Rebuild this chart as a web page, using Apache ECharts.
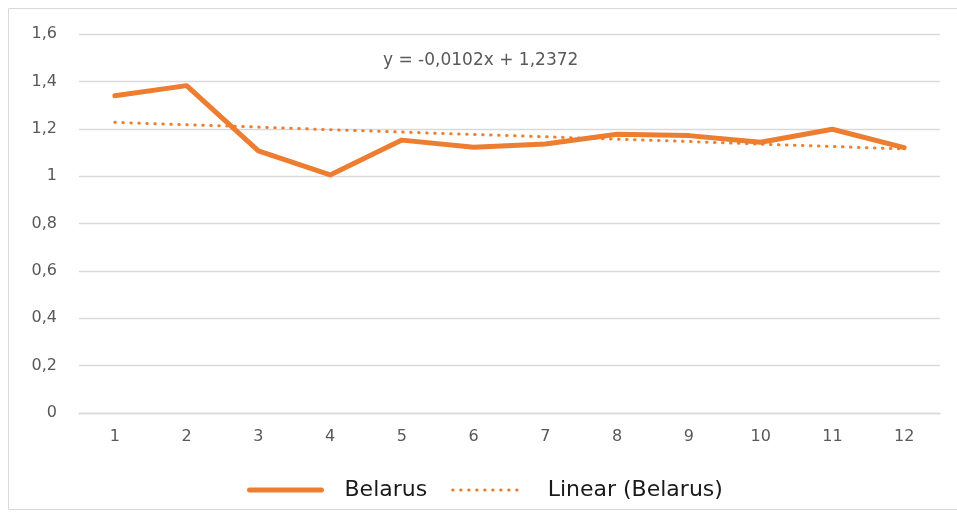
<!DOCTYPE html>
<html>
<head>
<meta charset="utf-8">
<script src="https://cdn.jsdelivr.net/npm/echarts@6/dist/echarts.min.js"></script>
<style>
  html, body { margin: 0; padding: 0; background: #fff; }
  #chart { width: 957px; height: 515px; }
</style>
</head>
<body>
<div id="chart"></div>
<script>
// данные
const months = ['1', '2', '3', '4', '5', '6', '7', '8', '9', '10', '11', '12'];
const belarus = [1.339, 1.382, 1.107, 1.005, 1.152, 1.122, 1.136, 1.177, 1.171, 1.143, 1.198, 1.120];
const linearBelarus = [1.227, 1.217, 1.207, 1.196, 1.186, 1.176, 1.166, 1.156, 1.146, 1.135, 1.125, 1.115];
const trendLabel = 'y = -0,0102x + 1,2372';

const orange = '#ED7D31';
const font = 'DejaVu Sans';

const chart = echarts.init(document.getElementById('chart'));

chart.setOption({
  animation: false,
  grid: { left: 79, right: 17, top: 34, bottom: 102 },
  graphic: [
    {
      type: 'rect',
      shape: { x: 8.5, y: 8.5, width: 960, height: 501 },
      style: { fill: 'none', stroke: '#d9d9d9', lineWidth: 1 },
      silent: true
    },
    {
      type: 'text',
      left: 383,
      top: 52,
      style: { text: trendLabel, font: '17px "DejaVu Sans"', fill: '#595959' }
    }
  ],
  legend: {
    left: 242,
    top: 474,
    itemWidth: 72,
    itemHeight: 14,
    itemGap: 24,
    itemStyle: { opacity: 0 },
    textStyle: { fontFamily: font, fontSize: 22, color: '#1a1a1a', padding: [0, 0, 0, 18] },
    data: [
      { name: 'Belarus', lineStyle: { width: 5 } },
      { name: 'Linear (Belarus)', lineStyle: { width: 3 } }
    ]
  },
  xAxis: {
    type: 'category',
    data: months,
    boundaryGap: true,
    axisLine: { lineStyle: { color: '#d9d9d9', width: 1.3 } },
    axisTick: { show: false },
    axisLabel: { color: '#595959', fontFamily: font, fontSize: 16, margin: 16 }
  },
  yAxis: {
    type: 'value',
    min: 0,
    max: 1.6,
    interval: 0.2,
    axisLine: { show: false },
    axisTick: { show: false },
    splitLine: { lineStyle: { color: '#d9d9d9', width: 1.3 } },
    axisLabel: {
      color: '#595959', fontFamily: font, fontSize: 16, margin: 22,
      formatter: v => String(Math.round(v * 10) / 10).replace('.', ',')
    }
  },
  series: [
    {
      name: 'Belarus',
      type: 'line',
      data: belarus,
      symbol: 'none',
      lineStyle: { color: orange, width: 5, cap: 'round', join: 'round' },
      itemStyle: { color: orange },
      z: 3
    },
    {
      name: 'Linear (Belarus)',
      type: 'line',
      data: linearBelarus,
      symbol: 'none',
      lineStyle: { color: orange, width: 3, type: [0.5, 7.5], cap: 'round' },
      itemStyle: { color: orange },
      z: 2
    }
  ]
});
</script>
</body>
</html>
